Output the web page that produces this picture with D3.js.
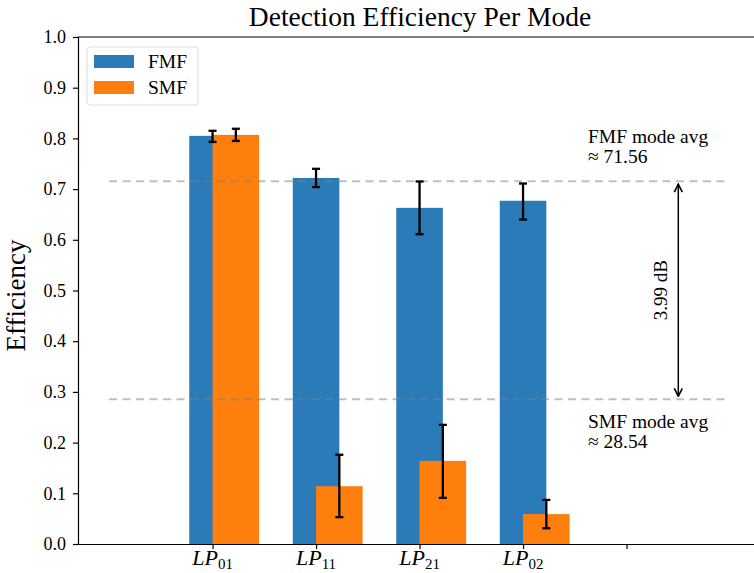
<!DOCTYPE html>
<meta charset="utf-8">
<title>Detection Efficiency Per Mode</title>
<head>
  <script src="https://d3js.org/d3.v7.min.js"></script>
  <style>
    body { margin: 0; background: #fff; }
    text { font-family: "Liberation Serif", "DejaVu Serif", serif; fill: #000; }
  </style>
</head>
<body>
<div id="chart"></div>
<script>
// data
var modes = ["01", "11", "21", "02"];
var fmfVals = [0.805, 0.722, 0.663, 0.677];
var fmfLow = [0.793, 0.704, 0.611, 0.640];
var fmfHigh = [0.815, 0.740, 0.715, 0.711];
var smfVals = [0.807, 0.114, 0.164, 0.059];
var smfLow = [0.795, 0.053, 0.091, 0.031];
var smfHigh = [0.819, 0.176, 0.235, 0.087];
var yTicks = [0, 0.1, 0.2, 0.3, 0.4, 0.5, 0.6, 0.7, 0.8, 0.9, 1.0];
var fmfAvg = 0.7156, smfAvg = 0.2854;
var gainLabel = "3.99 dB";

var W = 754, H = 573;
var mLeft = 78, mTop = 37, mBottom = 544;

var svg = d3.select("#chart").append("svg")
  .attr("width", W).attr("height", H);

var x = d3.scaleLinear().domain([-1.3, 5.3]).range([mLeft, mLeft + 6.6 * 103.5]);
var y = d3.scaleLinear().domain([0, 1]).range([mBottom, mTop]);
var bw = x(0.45) - x(0);

// bars
svg.selectAll("rect.fmf").data(fmfVals).enter().append("rect")
  .attr("class", "fmf")
  .attr("x", function(d, i) { return x(i) - bw / 2; })
  .attr("y", function(d) { return y(d); })
  .attr("width", bw)
  .attr("height", function(d) { return mBottom - y(d); })
  .style("fill", "#2b7bb9");

svg.selectAll("rect.smf").data(smfVals).enter().append("rect")
  .attr("class", "smf")
  .attr("x", function(d, i) { return x(i); })
  .attr("y", function(d) { return y(d); })
  .attr("width", bw)
  .attr("height", function(d) { return mBottom - y(d); })
  .style("fill", "#ff7f0e");

// average lines
[fmfAvg, smfAvg].forEach(function(v) {
  svg.append("line")
    .attr("x1", x(-1)).attr("x2", x(5))
    .attr("y1", y(v)).attr("y2", y(v))
    .style("stroke", "#808080").style("stroke-opacity", 0.5)
    .style("stroke-width", 2).style("stroke-dasharray", "8,5.5");
});

// error bars
function errBars(lo, hi, off) {
  lo.forEach(function(l, i) {
    var cx = x(i) + off;
    var g = svg.append("g").style("stroke", "#000").style("stroke-width", 2.3);
    g.append("line").attr("x1", cx).attr("x2", cx).attr("y1", y(l)).attr("y2", y(hi[i]));
    g.append("line").attr("x1", cx - 4).attr("x2", cx + 4).attr("y1", y(l)).attr("y2", y(l));
    g.append("line").attr("x1", cx - 4).attr("x2", cx + 4).attr("y1", y(hi[i])).attr("y2", y(hi[i]));
  });
}
errBars(fmfLow, fmfHigh, 0);
errBars(smfLow, smfHigh, bw / 2);

// axes
var yAxis = svg.append("g")
  .attr("transform", "translate(" + mLeft + ",0)")
  .call(d3.axisLeft(y).tickValues(yTicks).tickFormat(d3.format(".1f")).tickSizeOuter(0).tickSize(5).tickPadding(7));
var xAxis = svg.append("g")
  .attr("transform", "translate(0," + mBottom + ")")
  .call(d3.axisBottom(x).tickValues([0, 1, 2, 3, 4]).tickFormat("").tickSizeOuter(0).tickSize(5));
[yAxis, xAxis].forEach(function(a) {
  a.selectAll("path, line").style("stroke", "#000").style("stroke-width", 1.2);
  a.selectAll("text").style("font-family", "Liberation Serif, serif").style("font-size", "18px").style("fill", "#000");
});
xAxis.select(".domain").attr("d", "M" + mLeft + ",0.5H" + W);
svg.append("line").attr("x1", mLeft).attr("x2", W).attr("y1", mTop).attr("y2", mTop)
  .style("stroke", "#000").style("stroke-width", 1.2);

// x tick labels LP_xx
modes.forEach(function(m, i) {
  var t = svg.append("text").attr("x", x(i)).attr("y", mBottom + 21)
    .attr("text-anchor", "middle").style("font-size", "22px");
  t.append("tspan").style("font-style", "italic").text("LP");
  t.append("tspan").attr("dy", 4).style("font-size", "15px").text(m);
});

// title and y label
svg.append("text").attr("x", 420).attr("y", 26).attr("text-anchor", "middle")
  .style("font-size", "27.5px").text("Detection Efficiency Per Mode");
svg.append("text").attr("transform", "translate(25," + ((mTop + mBottom) / 2 + 5) + ") rotate(-90)")
  .attr("text-anchor", "middle").style("font-size", "27px").text("Efficiency");

// annotations
var ann = [["FMF mode avg", 143], ["≈ 71.56", 163], ["SMF mode avg", 428], ["≈ 28.54", 448]];
ann.forEach(function(a) {
  svg.append("text").attr("x", 588).attr("y", a[1]).style("font-size", "19.5px").text(a[0]);
});

// dB arrow
var ax = x(4.5);
svg.append("defs").append("marker").attr("id", "ah")
  .attr("viewBox", "0 0 10 10").attr("refX", 9).attr("refY", 5)
  .attr("markerWidth", 10).attr("markerHeight", 10).attr("markerUnits", "userSpaceOnUse")
  .attr("orient", "auto-start-reverse")
  .append("path").attr("d", "M1,1 L9,5 L1,9").style("fill", "none").style("stroke", "#000").style("stroke-width", 1.6);
svg.append("line").attr("x1", ax).attr("x2", ax)
  .attr("y1", y(fmfAvg) + 3).attr("y2", y(smfAvg) - 3)
  .style("stroke", "#000").style("stroke-width", 1.5)
  .attr("marker-start", "url(#ah)").attr("marker-end", "url(#ah)");
svg.append("text").attr("transform", "translate(667," + ((y(fmfAvg) + y(smfAvg)) / 2) + ") rotate(-90)")
  .attr("text-anchor", "middle").style("font-size", "19px").text(gainLabel);

// legend
var lg = svg.append("g").attr("transform", "translate(87,47)");
lg.append("rect").attr("width", 111).attr("height", 58).attr("rx", 3)
  .style("fill", "#fff").style("fill-opacity", 0.8).style("stroke", "#ddd");
lg.append("rect").attr("x", 7).attr("y", 8).attr("width", 40).attr("height", 13).style("fill", "#2b7bb9");
lg.append("rect").attr("x", 7).attr("y", 34).attr("width", 40).attr("height", 13).style("fill", "#ff7f0e");
lg.append("text").attr("x", 61).attr("y", 21).style("font-size", "19.5px").text("FMF");
lg.append("text").attr("x", 61).attr("y", 47).style("font-size", "19.5px").text("SMF");
</script>
</body>
